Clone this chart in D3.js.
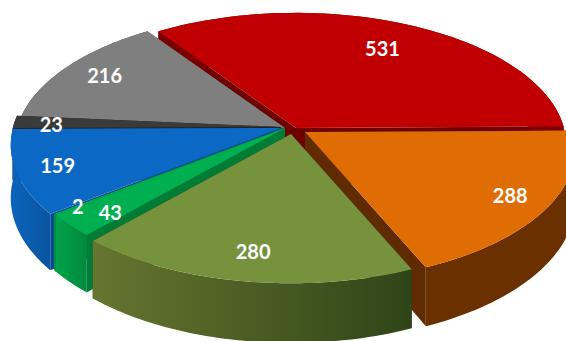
<!DOCTYPE html>
<html><head><meta charset="utf-8">
<script src="https://cdn.jsdelivr.net/npm/d3@7"></script>
<style>html,body{margin:0;background:#fff}svg{display:block}text{font-family:Lato,sans-serif;font-weight:700;font-size:20px;fill:#fff;text-anchor:middle;dominant-baseline:central}</style>
</head><body><svg id="c" width="566" height="341"></svg>
<script>
// Slice values, clockwise from the red wedge
const values = [531, 288, 280, 43, 2, 159, 23, 216];
const topColors = ["#c00000", "#e06c04", "#76923c", "#00b050", "#00b050", "#0b68c4", "#3a3a3a", "#7f7f7f"];
const sideStart = ["#7a0000", "#6b3000", "#66752f", "#00a248", "#00a248", "#0a64bc", "#262626", "#555555"];
const sideEnd = ["#7a0000", "#6b3000", "#2f4518", "#008a3d", "#008a3d", "#0a549f", "#262626", "#555555"];
// Explosion offset of each wedge, label radius and label nudge
const explodeX = [16, 25, 11, 5, 5, 1, 1, 5];
const explodeY = [0, 4, 6, 0, 0, 0, -1, 0];
const labelRadius = [0.85, 0.85, 0.88, 0.8, 0.9, 0.85, 0.85, 0.82];
const labelNudgeX = [-9, 2, 5, -6, -2, 0, -3, 0];
const labelNudgeY = [9, -1, -10, 8, 1, 0, 1, -2];
// Draw order, back to front
const drawOrder = [0, 7, 6, 5, 4, 3, 1, 2];

const cx = 280, cy = 128, rx = 268, ry = 130, tilt = 0.129, depth = 52;

const svg = d3.select("#c");
const defs = svg.append("defs");

const pie = d3.pie().sort(null).startAngle(-0.604).endAngle(-0.604 + 2 * Math.PI);
const arcs = pie(values);

// Perspective projection of a point on the pie disc at height z (0 top, 1 bottom)
function project(a, r, z, i) {
  const u = r * Math.sin(a), v = r * Math.cos(a), w = 1 + tilt * v;
  return [cx + explodeX[i] + rx * u / w, cy + explodeY[i] - ry * v / w + z * depth / w];
}
const line = d3.line();

drawOrder.forEach(i => {
  const s = arcs[i];
  const steps = d3.range(0, 61).map(t => s.startAngle + (s.endAngle - s.startAngle) * t / 60);
  const g = svg.append("g");

  const p0 = project(0, 0, 0, i), p0b = project(0, 0, 1, i);
  const start = project(s.startAngle, 1, 0, i), startB = project(s.startAngle, 1, 1, i);
  const end = project(s.endAngle, 1, 0, i), endB = project(s.endAngle, 1, 1, i);

  // radial cut faces
  g.append("path").attr("d", line([p0, start, startB, p0b]) + "Z").attr("fill", d3.color(sideEnd[i]).darker(0.3));
  g.append("path").attr("d", line([p0, end, endB, p0b]) + "Z").attr("fill", d3.color(sideEnd[i]).darker(0.3));

  // outer rim
  const rimTop = steps.map(a => project(a, 1, 0, i));
  const rimBottom = steps.map(a => project(a, 1, 1, i)).reverse();
  const gradId = "rim" + i;
  const [x0, x1] = d3.extent(rimTop, d => d[0]);
  const grad = defs.append("linearGradient").attr("id", gradId)
    .attr("gradientUnits", "userSpaceOnUse").attr("x1", x0).attr("x2", x1).attr("y1", 0).attr("y2", 0);
  grad.append("stop").attr("offset", 0).attr("stop-color", sideStart[i]);
  grad.append("stop").attr("offset", 1).attr("stop-color", sideEnd[i]);
  g.append("path").attr("d", line(rimTop.concat(rimBottom)) + "Z").attr("fill", `url(#${gradId})`);

  // top face
  g.append("path").attr("d", line([p0].concat(rimTop)) + "Z").attr("fill", topColors[i]);
});

// value labels on top of everything
arcs.forEach((s, i) => {
  const p = project((s.startAngle + s.endAngle) / 2, labelRadius[i], 0, i);
  svg.append("text").attr("x", p[0] + labelNudgeX[i]).attr("y", p[1] + labelNudgeY[i]).text(values[i]);
});
</script></body></html>
